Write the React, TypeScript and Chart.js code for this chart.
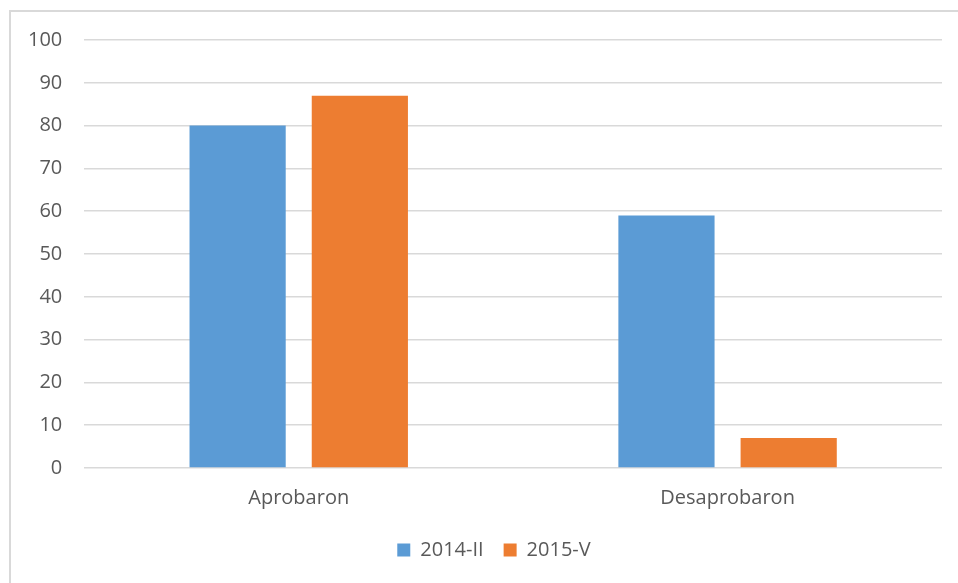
import React, { useEffect, useRef } from "react";
import { Chart, registerables } from "chart.js";

Chart.register(...registerables);

const categories = ["Aprobaron", "Desaprobaron"];
const series2014 = [80, 59];
const series2015 = [87, 7];
const seriesNames = ["2014-II", "2015-V"];

const legendShift = {
  id: "legendShift",
  afterLayout(chart: any) {
    if (chart.legend) {
      chart.legend.left += 20;
      chart.legend.right += 20;
    }
  },
};

export default function App() {
  const ref = useRef<HTMLCanvasElement | null>(null);
  useEffect(() => {
    if (!ref.current) return;
    const chart = new Chart(ref.current, {
      type: "bar",
      data: {
        labels: categories,
        datasets: [
          { label: seriesNames[0], data: series2014, backgroundColor: "#5B9BD5", borderWidth: 0 },
          { label: seriesNames[1], data: series2015, backgroundColor: "#ED7D31", borderWidth: 0 },
        ],
      },
      plugins: [legendShift],
      options: {
        animation: false,
        responsive: false,
        maintainAspectRatio: false,
        layout: { padding: { left: 6, right: 16, top: 40, bottom: 13 } },
        datasets: { bar: { categoryPercentage: 0.57, barPercentage: 0.787 } },
        plugins: {
          tooltip: { enabled: false },
          legend: {
            position: "bottom",
            labels: {
              boxWidth: 13,
              boxHeight: 13,
              padding: 20,
              color: "#595959",
              font: { family: "Open Sans", size: 20 },
            },
          },
        },
        scales: {
          x: {
            grid: { display: false },
            border: { display: false },
            ticks: { color: "#595959", font: { family: "Open Sans", size: 20 }, padding: 10 },
          },
          y: {
            min: 0,
            max: 100,
            ticks: { stepSize: 10, color: "#595959", font: { family: "Open Sans", size: 20 }, padding: 22 },
            grid: { color: "#d9d9d9", lineWidth: 1.5, drawTicks: false },
            border: { display: false },
          },
        },
      },
    });
    return () => chart.destroy();
  }, []);
  return (
    <div style={{ position: "absolute", left: 0, top: 0, width: 958, height: 583, overflow: "hidden", background: "#fff" }}>
      <div style={{ position: "absolute", left: 9, top: 10, width: 980, height: 600, borderLeft: "2px solid #d9d9d9", borderTop: "2px solid #d9d9d9" }} />
      <canvas ref={ref} width={958} height={583} style={{ position: "absolute", left: 0, top: 0 }} />
    </div>
  );
}
